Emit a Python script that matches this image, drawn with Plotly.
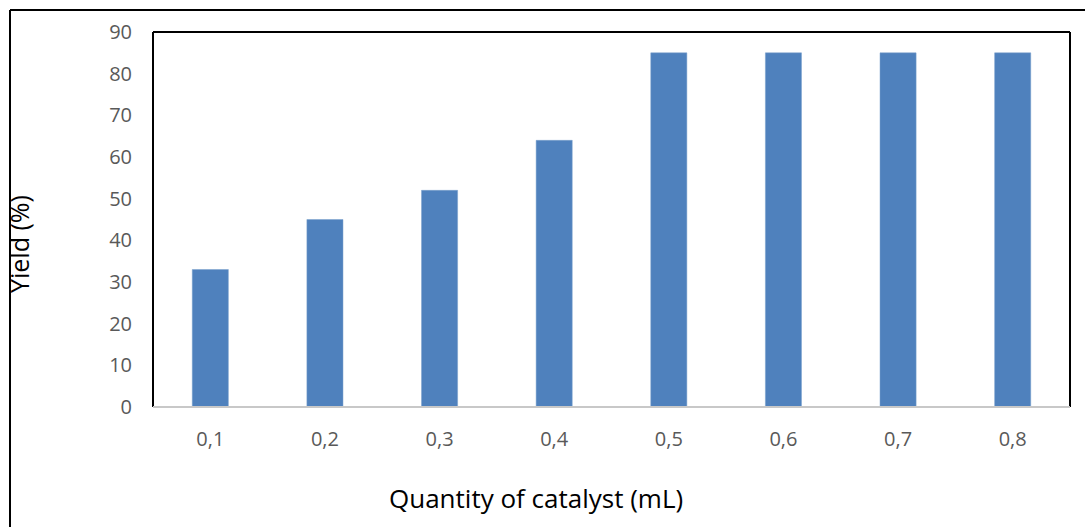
import plotly.graph_objects as go

categories = ["0,1", "0,2", "0,3", "0,4", "0,5", "0,6", "0,7", "0,8"]
yields = [33, 45, 52, 64, 85, 85, 85, 85]
y_ticks = [0, 10, 20, 30, 40, 50, 60, 70, 80, 90]

W, H = 1085, 527
L, T, R, B = 153, 32, 1070, 407
pw, ph = R - L, B - T

def px(x):
    return (x - L) / pw

def py(y):
    return (B - y) / ph

fig = go.Figure(go.Bar(
    x=categories, y=yields,
    marker=dict(color="#4F81BD", line=dict(color="#7BA0CD", width=0.5)),
    width=0.315,
))

fig.update_layout(
    width=W, height=H,
    margin=dict(l=L, r=W - R, t=T, b=H - B),
    paper_bgcolor="white", plot_bgcolor="white",
    showlegend=False,
    font=dict(family="Open Sans", color="#595959"),
    xaxis=dict(
        showgrid=False, zeroline=False, showline=False,
        ticks="", tickfont=dict(size=20, color="#595959"),
        ticklabelstandoff=18,
    ),
    yaxis=dict(
        range=[0, 90], tickvals=y_ticks, showgrid=False, zeroline=False,
        showline=False, ticks="", tickfont=dict(size=20, color="#595959"),
        ticklabelstandoff=20,
    ),
    shapes=[
        # plot area border: left, top, right black; bottom gray
        dict(type="line", xref="paper", yref="paper", x0=0, x1=0, y0=0, y1=1,
             line=dict(color="black", width=2)),
        dict(type="line", xref="paper", yref="paper", x0=0, x1=1, y0=1, y1=1,
             line=dict(color="black", width=2)),
        dict(type="line", xref="paper", yref="paper", x0=1, x1=1, y0=0, y1=1,
             line=dict(color="black", width=2)),
        dict(type="line", xref="paper", yref="paper", x0=0, x1=1, y0=0, y1=0,
             line=dict(color="#C8C8C8", width=2)),
        # outer frame
        dict(type="line", xref="paper", yref="paper", x0=px(10), x1=px(1090),
             y0=py(10), y1=py(10), line=dict(color="black", width=2)),
        dict(type="line", xref="paper", yref="paper", x0=px(10), x1=px(10),
             y0=py(10), y1=py(530), line=dict(color="black", width=2)),
    ],
    annotations=[
        dict(text="Yield (%)", xref="paper", yref="paper", x=px(19), y=py(244),
             showarrow=False, textangle=-90, xanchor="center", yanchor="middle",
             font=dict(family="Open Sans", size=25, color="black")),
        dict(text="Quantity of catalyst (mL)", xref="paper", yref="paper",
             x=px(536), y=py(498), showarrow=False, xanchor="center", yanchor="middle",
             font=dict(family="Open Sans", size=26, color="black")),
    ],
)

fig.write_html("out.html")
